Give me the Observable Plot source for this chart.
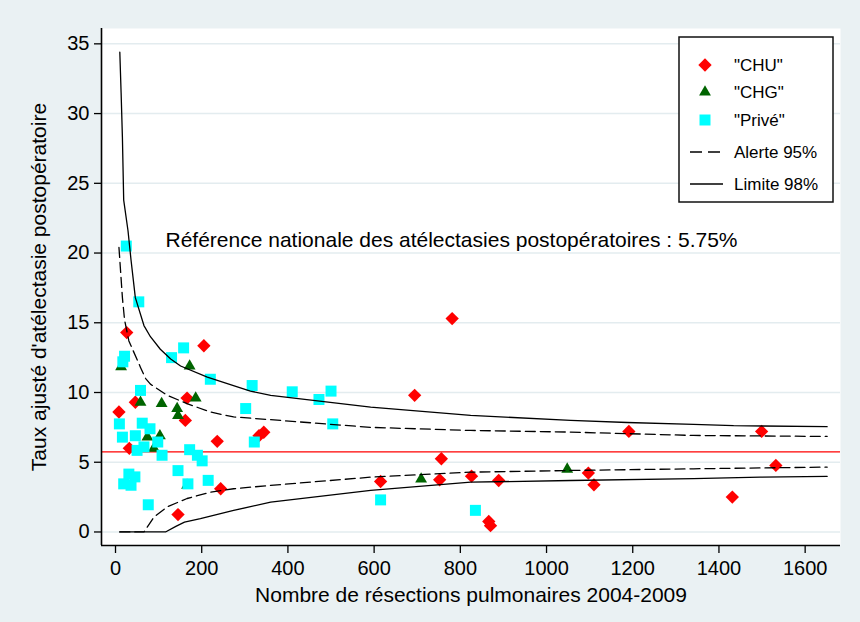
<!DOCTYPE html>
<html>
<head>
<meta charset="utf-8">
<script src="https://cdn.jsdelivr.net/npm/d3@7"></script>
<script src="https://cdn.jsdelivr.net/npm/@observablehq/plot@0.6"></script>
<style>
  html, body { margin: 0; padding: 0; background: #eaf1f3; }
  #chart { position: relative; width: 860px; height: 622px; }
</style>
</head>
<body>
<div id="chart"></div>
<script>
// ---- Data ----
const yTitle = "Taux ajusté d'atélectasie postopératoire";
const xTitle = "Nombre de résections pulmonaires 2004-2009";
const annotation = "Référence nationale des atélectasies postopératoires : 5.75%";
const refRate = 5.75;
const yTicks = [0, 5, 10, 15, 20, 25, 30, 35];
const xTicks = [0, 200, 400, 600, 800, 1000, 1200, 1400, 1600];
const legendLabels = ['"CHU"', '"CHG"', '"Privé"', "Alerte 95%", "Limite 98%"];

// [resections, rate]
const chuPoints = [
  [8, 8.6], [26, 14.3], [32, 6.0], [46, 9.3], [145, 1.25], [162, 8.0], [166, 9.6],
  [205, 13.35], [236, 6.5], [244, 3.1], [333, 6.9], [344, 7.15], [615, 3.62],
  [694, 9.8], [752, 3.74], [756, 5.25], [781, 15.3], [826, 4.0], [866, 0.75],
  [870, 0.45], [889, 3.69], [1097, 4.22], [1110, 3.38], [1191, 7.21], [1431, 2.5],
  [1499, 7.21], [1532, 4.77]
];
const chgPoints = [
  [13, 11.85], [58, 9.3], [74, 6.8], [89, 6.0], [103, 6.9], [107, 9.2], [143, 8.85],
  [145, 8.35], [166, 3.35], [172, 11.9], [186, 9.6], [709, 3.8], [1048, 4.5]
];
const privePoints = [
  [9, 7.75], [16, 6.8], [17, 12.2], [19, 3.45], [21, 12.6], [25, 20.5], [31, 4.15],
  [36, 3.35], [45, 3.95], [46, 6.9], [50, 5.85], [54, 16.5], [58, 10.15], [62, 7.8],
  [66, 6.1], [76, 1.95], [80, 7.4], [98, 6.45], [108, 5.5], [130, 12.5], [145, 4.4],
  [158, 13.2], [168, 3.45], [172, 5.9], [190, 5.5], [201, 5.1], [215, 3.7], [220, 10.95],
  [302, 8.85], [317, 10.5], [322, 6.45], [410, 10.05], [472, 9.5], [500, 10.1],
  [504, 7.75], [615, 2.3], [835, 1.55]
];

// Funnel limits
const limitUpper98 = [
  [10, 34.4], [13, 31.5], [16, 28.3], [19, 23.8], [29, 21.6], [36, 19.5], [46, 16.8],
  [66, 14.8], [81, 14.0], [104, 13.1], [128, 12.4], [151, 11.9], [213, 11.1],
  [313, 10.1], [360, 9.8], [592, 8.95], [824, 8.36], [1056, 8.0], [1187, 7.85],
  [1341, 7.72], [1434, 7.62], [1651, 7.55]
];
const alertUpper95 = [
  [8, 20.4], [16, 16.8], [21, 15.2], [31, 13.7], [58, 11.8], [70, 11.0], [81, 10.6],
  [120, 9.8], [166, 9.2], [220, 8.6], [274, 8.25], [360, 8.05], [592, 7.5],
  [824, 7.28], [1056, 7.16], [1341, 6.92], [1651, 6.85]
];
const alertLower95 = [
  [10, 0], [66, 0], [89, 1.06], [120, 1.8], [166, 2.4], [220, 2.85], [274, 3.1],
  [360, 3.34], [592, 3.93], [824, 4.29], [1056, 4.41], [1341, 4.53], [1651, 4.65]
];
const limitLower98 = [
  [10, 0], [116, 0], [140, 0.4], [160, 0.7], [197, 0.95], [274, 1.54], [360, 2.14], [592, 2.98],
  [824, 3.57], [1056, 3.69], [1341, 3.82], [1496, 3.93], [1651, 3.98]
];

const annotationPos = [116, 20.9];

// ---- Chart ----
const xDomain = [-32.5, 1682];
const yDomain = [-0.97, 36.1];
const font = "'Liberation Sans', Arial, Helvetica, sans-serif";
const toObj = a => a.map(([x, y]) => ({x, y}));

const chart = Plot.plot({
  width: 860,
  height: 622,
  marginLeft: 101,
  marginRight: 20,
  marginTop: 28,
  marginBottom: 77,
  style: {background: "#eaf1f3", fontFamily: font, fontSize: "20px", color: "#000"},
  x: {domain: xDomain},
  y: {domain: yDomain},
  marks: [
    Plot.frame({fill: "white", stroke: null}),
    Plot.gridY(yTicks, {stroke: "#e3ecef", strokeOpacity: 1, strokeWidth: 1.5}),
    Plot.ruleY([refRate], {stroke: "#ff0000", strokeWidth: 1.2}),
    Plot.text([annotation], {x: annotationPos[0], y: annotationPos[1], text: d => d,
      textAnchor: "start", fontSize: 21, fill: "#000"}),
    Plot.dot(toObj(chuPoints), {x: "x", y: "y", symbol: "diamond2", r: 6, fill: "#ff0000"}),
    Plot.dot(toObj(chgPoints), {x: "x", y: "y", symbol: "triangle", r: 4.4, fill: "#006400"}),
    Plot.dot(toObj(privePoints), {x: "x", y: "y", symbol: "square", r: 6.2, fill: "#00ffff"}),
    Plot.line(toObj(alertUpper95), {x: "x", y: "y", stroke: "#000", strokeWidth: 1.3, strokeDasharray: "10,5"}),
    Plot.line(toObj(alertLower95), {x: "x", y: "y", stroke: "#000", strokeWidth: 1.3, strokeDasharray: "10,5"}),
    Plot.line(toObj(limitUpper98), {x: "x", y: "y", stroke: "#000", strokeWidth: 1.3}),
    Plot.line(toObj(limitLower98), {x: "x", y: "y", stroke: "#000", strokeWidth: 1.3}),
    Plot.axisY({ticks: yTicks, tickSize: 7, tickPadding: 5, fontSize: 20, strokeWidth: 1.3,
      tickFormat: d => String(d),
      label: yTitle, labelAnchor: "center", labelOffset: 70, labelArrow: "none"}),
    Plot.axisX({ticks: xTicks, tickSize: 8, tickPadding: 7, fontSize: 20, strokeWidth: 1.3,
      tickFormat: d => String(d),
      label: xTitle, labelAnchor: "center", labelOffset: 56, labelArrow: "none"}),
    Plot.ruleX([xDomain[0]], {stroke: "#000", strokeWidth: 1.6}),
    Plot.ruleY([yDomain[0]], {stroke: "#000", strokeWidth: 1.6})
  ]
});

document.getElementById("chart").appendChild(chart);

// axis titles a bit larger than tick labels
d3.select(chart).selectAll("[aria-label='y-axis label'] text, [aria-label='x-axis label'] text")
  .attr("font-size", 21);

// ---- Legend (inside the plot, top right) ----
const svg = d3.select(chart);
const lg = svg.append("g").attr("transform", "translate(679,37)").attr("text-anchor", "start");
lg.append("rect").attr("width", 154).attr("height", 165)
  .attr("fill", "white").attr("stroke", "#111").attr("stroke-width", 1.5);
const rowY = [28, 55, 83, 115, 147];
const sym = (type, r) => d3.symbol(type, Math.PI * r * r)();
lg.append("path").attr("d", sym(d3.symbolDiamond2, 6)).attr("transform", `translate(26,${rowY[0]})`).attr("fill", "#ff0000");
lg.append("path").attr("d", sym(d3.symbolTriangle, 4.4)).attr("transform", `translate(26,${rowY[1]})`).attr("fill", "#006400");
lg.append("path").attr("d", sym(d3.symbolSquare, 6.2)).attr("transform", `translate(26,${rowY[2]})`).attr("fill", "#00ffff");
lg.append("line").attr("x1", 11).attr("x2", 41).attr("y1", rowY[3]).attr("y2", rowY[3])
  .attr("stroke", "#000").attr("stroke-width", 1.3).attr("stroke-dasharray", "12,6");
lg.append("line").attr("x1", 11).attr("x2", 44).attr("y1", rowY[4]).attr("y2", rowY[4])
  .attr("stroke", "#000").attr("stroke-width", 1.3);
legendLabels.forEach((t, i) => {
  lg.append("text").attr("x", 55).attr("y", rowY[i]).attr("dy", "0.35em")
    .attr("text-anchor", "start")
    .attr("font-size", 17).attr("font-family", font).attr("fill", "#000").text(t);
});
</script>
</body>
</html>
